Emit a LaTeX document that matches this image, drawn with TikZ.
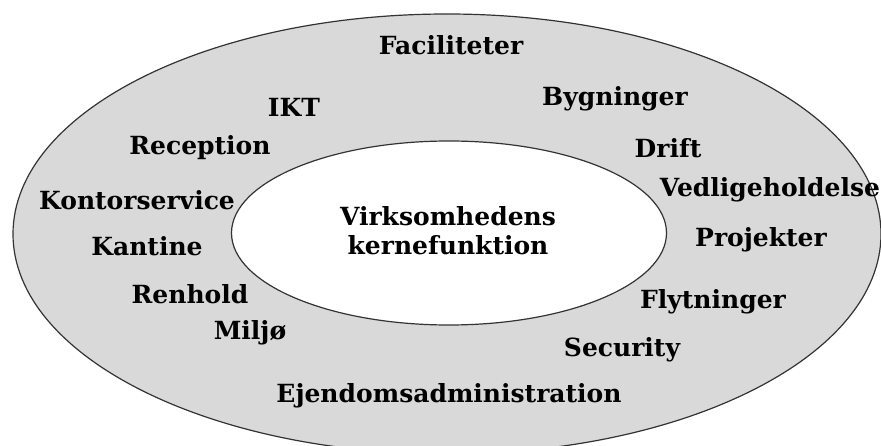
\documentclass[tikz,border=0pt]{standalone}
\usepackage{fontspec}
\setmainfont{DejaVu Serif}
\usetikzlibrary{shapes.geometric}
\definecolor{ringgray}{HTML}{D9D9D9}
\definecolor{edgegray}{HTML}{333333}
\begin{document}
\begin{tikzpicture}[x=1pt,y=-1pt,
  ring/.style={ellipse, draw=edgegray, line width=1.2pt, inner sep=0pt},
  lbl/.style={font=\bfseries\fontsize{25}{29}\selectfont, inner sep=0pt, text=black, align=center}
]
\useasboundingbox (0,0) rectangle (881,446);
\begin{scope}
\clip (0,0) rectangle (881,446);
% outer ring: support functions
\node[ring, fill=ringgray, minimum width=868pt, minimum height=440pt] (outer) at (447,234) {};
% inner ring: core business
\node[ring, fill=white, minimum width=435pt, minimum height=184pt] (inner) at (449,233) {};
\end{scope}

\node[lbl] (core) at (448,231) {Virksomhedens\\kernefunktion};

\node[lbl] (fac)  at (451,45)  {Faciliteter};
\node[lbl] (ikt)  at (294,107) {IKT};
\node[lbl] (byg)  at (615,99)  {Bygninger};
\node[lbl] (rec)  at (200,148) {Reception};
\node[lbl] (dri)  at (668,148) {Drift};
\node[lbl] (ved)  at (770,190) {Vedligeholdelse};
\node[lbl] (kon)  at (137,200) {Kontorservice};
\node[lbl] (pro)  at (761,240) {Projekter};
\node[lbl] (kan)  at (147,246) {Kantine};
\node[lbl] (ren)  at (190,294) {Renhold};
\node[lbl] (fly)  at (713,302) {Flytninger};
\node[lbl] (mil)  at (250,333) {Miljø};
\node[lbl] (sec)  at (622,350) {Security};
\node[lbl] (ejd)  at (449,396) {Ejendomsadministration};
\end{tikzpicture}
\end{document}
